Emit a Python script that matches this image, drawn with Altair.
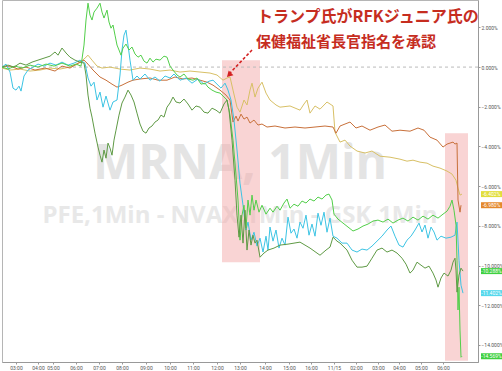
import altair as alt
import pandas as pd

# ---- axis ticks ----
bar_ticks = [14, 36, 51, 74, 97, 120, 144, 168, 191, 215, 238, 263, 287, 309, 332, 354, 376, 397, 419, 441]
tick_labels = ["03:00", "04:00", "05:00", "06:00", "07:00", "08:00", "09:00", "10:00", "11:00", "12:00",
               "13:00", "14:00", "15:00", "16:00", "11/15", "02:00", "03:00", "04:00", "05:00", "06:00"]
pct_ticks = [2, 0, -2, -4, -6, -8, -10, -12, -14]

# ---- series (bar index on compressed time axis, % change) ----
yellow_bar = [0, 8, 18, 28, 38, 48, 58, 68, 76, 83, 86, 90, 95, 100, 108, 118, 128, 138, 148, 158, 168, 178, 188, 198, 208, 215, 221, 225, 228, 231, 235, 238, 242, 245, 248, 250, 253, 256, 260, 264, 268, 274, 278, 288, 298, 302, 305, 308, 313, 318, 325, 331, 333, 338, 343, 348, 355, 363, 370, 378, 388, 398, 405, 411, 418, 425, 431, 438, 445, 450, 454, 456, 458, 460]
yellow_pct = [-0.05, -0.15, -0.10, -0.20, -0.15, -0.05, -0.10, 0.0, 0.15, 0.45, 0.60, 0.35, 0.05, -0.05, 0.0, -0.10, -0.15, -0.05, -0.10, -0.20, -0.15, -0.25, -0.20, -0.25, -0.30, -0.40, -0.66, -0.55, -0.50, -1.16, -2.02, -2.27, -1.66, -1.91, -1.16, -0.81, -1.51, -1.06, -0.76, -1.31, -1.66, -1.91, -2.02, -1.96, -2.17, -1.86, -1.66, -2.32, -1.96, -2.12, -1.76, -1.96, -3.28, -3.78, -3.68, -3.98, -4.23, -4.33, -4.23, -4.49, -4.54, -4.64, -4.74, -4.69, -4.79, -4.84, -4.99, -5.09, -5.24, -5.39, -5.70, -6.10, -6.45, -6.40]

orange_bar = [0, 8, 16, 24, 33, 43, 53, 60, 68, 76, 82, 86, 91, 98, 104, 110, 115, 120, 126, 131, 138, 148, 156, 165, 173, 181, 190, 198, 205, 211, 218, 224, 228, 231, 234, 236, 239, 242, 245, 248, 252, 256, 260, 265, 273, 283, 293, 303, 313, 323, 331, 334, 338, 343, 348, 354, 360, 368, 376, 383, 390, 398, 408, 416, 422, 428, 435, 441, 445, 448, 451, 453, 455, 456, 458, 459]
orange_pct = [0.0, 0.05, -0.10, 0.0, -0.15, -0.05, -0.20, 0.05, -0.05, 0.20, 0.35, 0.15, -0.15, -0.50, -0.66, -0.86, -1.01, -0.91, -0.76, -0.66, -0.60, -0.55, -0.66, -0.66, -0.50, -0.60, -0.55, -0.66, -0.76, -0.91, -1.16, -1.41, -1.66, -2.77, -2.47, -2.72, -2.37, -2.62, -2.52, -2.82, -2.67, -2.92, -2.87, -3.02, -2.97, -3.07, -3.02, -3.07, -3.02, -2.97, -3.02, -3.33, -2.97, -2.87, -2.77, -3.07, -2.97, -3.18, -3.02, -2.92, -3.23, -3.18, -3.23, -3.07, -3.18, -3.53, -3.68, -4.03, -3.88, -3.83, -3.78, -3.88, -3.83, -6.70, -7.31, -6.96]

cyan_bar = [0, 4, 8, 11, 14, 17, 19, 22, 26, 31, 36, 42, 48, 54, 60, 66, 72, 78, 83, 86, 89, 92, 95, 98, 101, 104, 108, 111, 115, 118, 120, 122, 124, 126, 128, 131, 135, 138, 143, 148, 153, 158, 163, 168, 172, 178, 184, 190, 196, 202, 207, 211, 215, 219, 223, 226, 229, 232, 235, 238, 241, 244, 246, 249, 252, 255, 258, 261, 264, 266, 268, 271, 274, 277, 280, 283, 286, 289, 292, 295, 298, 301, 304, 307, 310, 313, 316, 319, 322, 325, 328, 331, 335, 340, 345, 350, 355, 360, 365, 370, 375, 380, 385, 389, 393, 397, 401, 405, 409, 413, 417, 420, 423, 426, 429, 432, 435, 439, 444, 449, 453, 455, 457, 459, 461]
cyan_pct = [0.0, 0.15, -0.25, -1.06, -1.16, -0.96, -1.21, -0.45, -0.15, 0.0, 0.15, 0.05, 0.20, 0.10, 0.25, 0.10, 0.20, 0.35, 0.20, -0.55, -0.96, -0.76, -1.66, -1.26, -2.02, -1.46, -2.17, -1.76, -1.66, -0.40, 0.86, 1.61, 1.86, 1.11, 0.35, -0.66, -0.45, -0.60, -0.35, -0.66, -0.50, -0.71, -0.45, -0.55, -0.35, -0.66, -0.55, -0.81, -0.60, -0.86, -0.71, -0.66, -0.86, -1.06, -0.81, -1.16, -1.66, -2.67, -4.18, -5.85, -6.96, -8.21, -7.81, -8.72, -8.32, -9.02, -8.62, -9.32, -8.52, -9.22, -8.06, -8.77, -8.21, -9.12, -8.62, -8.97, -7.56, -8.37, -8.16, -8.62, -7.81, -8.12, -7.46, -8.47, -7.91, -8.52, -7.36, -7.97, -7.31, -8.32, -7.61, -8.52, -8.62, -8.87, -8.87, -9.22, -9.32, -9.17, -9.22, -9.02, -8.77, -8.52, -8.21, -8.01, -8.52, -8.97, -9.07, -8.72, -8.52, -8.21, -7.86, -8.31, -7.96, -8.62, -8.06, -8.31, -8.72, -8.52, -8.62, -8.57, -8.47, -7.81, -9.73, -10.99, -11.39]

lime_bar = [0, 6, 13, 20, 28, 36, 44, 52, 60, 68, 74, 79, 82, 84, 86, 88, 90, 92, 95, 98, 100, 102, 105, 107, 109, 111, 113, 115, 117, 119, 121, 124, 127, 130, 133, 136, 139, 142, 145, 148, 151, 154, 158, 162, 165, 168, 171, 175, 178, 182, 186, 191, 195, 199, 203, 206, 210, 214, 218, 222, 225, 228, 231, 234, 236, 238, 240, 242, 244, 246, 248, 250, 252, 254, 257, 260, 264, 268, 271, 275, 278, 282, 285, 288, 292, 296, 300, 304, 308, 312, 316, 320, 324, 327, 330, 332, 336, 341, 346, 351, 356, 361, 366, 371, 376, 381, 386, 391, 396, 401, 406, 411, 416, 421, 426, 431, 436, 441, 445, 448, 450, 452, 454, 455, 456, 457, 458, 459, 460]
lime_pct = [0.0, -0.10, 0.05, -0.05, 0.10, 0.0, 0.15, 0.05, 0.20, 0.05, 0.15, 0.05, 1.11, 2.37, 3.22, 2.62, 2.37, 2.77, 2.97, 3.22, 2.77, 2.47, 2.87, 2.27, 1.96, 2.12, 1.61, 1.11, 0.86, 0.60, 0.96, 1.16, 0.86, 1.01, 0.66, 0.50, 0.60, 0.30, 0.20, 0.45, 0.25, 0.40, 0.35, 0.55, 0.50, 0.05, -0.15, -0.40, -0.50, -0.35, -0.60, -0.66, -0.55, -0.86, -0.81, -1.01, -1.16, -1.26, -1.31, -1.51, -1.66, -2.42, -3.68, -5.44, -6.70, -8.72, -7.46, -6.96, -8.11, -6.70, -7.46, -6.45, -7.21, -6.70, -7.31, -6.96, -7.41, -7.11, -7.31, -7.01, -7.21, -6.85, -6.65, -7.11, -6.91, -7.01, -6.75, -6.85, -6.65, -6.75, -6.55, -6.65, -6.45, -6.40, -6.70, -7.41, -7.66, -7.86, -8.06, -8.26, -8.16, -8.01, -7.91, -7.76, -7.71, -7.81, -7.66, -7.86, -7.71, -7.61, -7.76, -7.56, -7.71, -7.51, -7.66, -7.46, -7.61, -7.41, -7.26, -7.01, -6.70, -7.21, -7.96, -9.73, -12.24, -11.09, -13.25, -14.62, -14.57]

green_bar = [0, 6, 12, 18, 24, 30, 36, 42, 48, 53, 56, 60, 64, 68, 73, 78, 82, 84, 86, 88, 90, 93, 96, 98, 100, 102, 104, 106, 108, 110, 112, 114, 117, 120, 123, 126, 129, 132, 135, 138, 141, 144, 147, 150, 153, 156, 159, 162, 165, 168, 171, 174, 178, 182, 186, 190, 194, 198, 202, 206, 210, 214, 218, 222, 225, 227, 230, 233, 235, 237, 239, 241, 243, 245, 247, 249, 251, 253, 255, 258, 262, 266, 272, 278, 286, 298, 308, 318, 324, 328, 331, 335, 338, 342, 345, 350, 355, 360, 365, 370, 375, 380, 385, 390, 395, 400, 404, 408, 411, 415, 419, 423, 427, 431, 434, 436, 439, 442, 446, 449, 451, 453, 454, 455, 457, 459, 461]
green_pct = [0.0, 0.10, 0.0, 0.20, 0.10, 0.25, 0.35, 0.45, 0.55, 0.76, 0.60, 0.96, 0.71, 0.50, 0.35, 0.25, 0.20, -0.40, -1.41, -2.07, -2.52, -3.33, -4.03, -4.44, -4.79, -4.18, -4.59, -3.83, -4.08, -4.44, -3.68, -3.18, -2.42, -1.81, -1.51, -1.16, -1.41, -1.76, -2.32, -2.87, -3.23, -3.33, -3.07, -2.97, -2.77, -2.67, -2.42, -2.52, -2.02, -1.81, -1.51, -1.76, -1.81, -1.61, -1.86, -2.17, -1.96, -2.02, -2.27, -2.32, -2.07, -2.17, -2.32, -1.86, -1.66, -2.17, -3.68, -5.70, -7.46, -8.57, -7.46, -8.87, -7.21, -9.22, -8.21, -8.97, -8.47, -8.87, -8.72, -9.58, -9.37, -9.22, -9.12, -8.97, -8.92, -8.82, -9.12, -9.48, -9.22, -9.07, -8.57, -8.77, -8.87, -9.07, -9.22, -9.73, -10.08, -10.08, -10.03, -9.63, -9.22, -9.12, -9.32, -9.22, -9.37, -9.63, -9.93, -10.38, -10.23, -9.83, -9.98, -10.13, -10.03, -10.38, -10.73, -11.09, -10.63, -10.38, -10.53, -10.23, -9.83, -9.63, -10.23, -11.34, -10.48, -10.13, -10.28]

series_names = ["yellow", "orange", "cyan", "lime", "green"]
series_colors = ["#d8c066", "#c8703a", "#3cc4e4", "#52cf4a", "#5f9a45"]

# ---- last-value tags on the right ----
tag_pct = [-6.40, -6.96, -10.28, -11.39, -14.57]
tag_text = ["-6.402%", "-6.980%", "-10.288%", "-11.402%", "-14.569%"]
tag_colors = ["#e2de3c", "#e4882c", "#3fd03f", "#55d8ec", "#3fd03f"]

# ---- highlighted zones ----
zone_bar_start = [220, 443]
zone_bar_end = [258, 466]
zone_pct_top = [0.35, -3.33]
zone_pct_bottom = [-9.83, -14.80]

# ---- build tables ----
rows = []
for name, bars, pcts in zip(series_names,
                            [yellow_bar, orange_bar, cyan_bar, lime_bar, green_bar],
                            [yellow_pct, orange_pct, cyan_pct, lime_pct, green_pct]):
    for b, p in zip(bars, pcts):
        rows.append({"series": name, "bar": b, "pct": p})
lines_df = pd.DataFrame(rows)

zones_df = pd.DataFrame({"bar": zone_bar_start, "bar2": zone_bar_end,
                         "pct": zone_pct_top, "pct2": zone_pct_bottom})
tags_df = pd.DataFrame({"pct": tag_pct, "label": tag_text, "col": tag_colors})

xs = alt.Scale(domain=[0, 476], nice=False, zero=False)
ys = alt.Scale(domain=[-14.86, 3.38], nice=False, zero=False)

labels_js = "[" + ",".join("'%s'" % t for t in tick_labels) + "]"
ticks_js = "[" + ",".join(str(t) for t in bar_ticks) + "]"
x_axis = alt.Axis(values=bar_ticks, labelExpr=labels_js + "[indexof(" + ticks_js + ", datum.value)]",
                  labelFontSize=5, labelColor="#555555", labelFont="Roboto", tickSize=2,
                  tickColor="#999999", domainColor="#999999", grid=False, title=None,
                  labelPadding=1, labelOverlap=False)
y_axis = alt.Axis(orient="right", values=pct_ticks, labelExpr="format(datum.value, '.3f') + '%'",
                  labelFontSize=5, labelColor="#555555", labelFont="Roboto", tickSize=2,
                  tickColor="#999999", domainColor="#999999", grid=False, title=None,
                  labelPadding=1, labelOverlap=False)

X = alt.X("bar:Q", scale=xs, axis=x_axis)
Y = alt.Y("pct:Q", scale=ys, axis=y_axis)

wm1 = alt.Chart(pd.DataFrame({"bar": [238], "pct": [-4.94], "t": ["MRNA, 1Min"]})).mark_text(
    font="Open Sans", fontWeight="bold", fontSize=48, color="#e4e4e4", align="center", baseline="middle"
).encode(x=X, y=Y, text="t:N")

wm2 = alt.Chart(pd.DataFrame({"bar": [238], "pct": [-7.51], "t": ["PFE,1Min - NVAX,1Min - GSK,1Min"]})).mark_text(
    font="Open Sans", fontWeight="bold", fontSize=24, color="#e8e8e8", align="center", baseline="middle"
).encode(x=X, y=Y, text="t:N")

zones = alt.Chart(zones_df).mark_rect(color="#f3a9a9", opacity=0.5).encode(
    x=X, x2="bar2:Q", y=Y, y2="pct2:Q")

zero_rule = alt.Chart(pd.DataFrame({"pct": [0]})).mark_rule(
    color="#bbbbbb", strokeDash=[3, 3], strokeWidth=1).encode(y=Y)

lines = alt.Chart(lines_df).mark_line(strokeWidth=1).encode(
    x=X, y=Y,
    color=alt.Color("series:N", scale=alt.Scale(domain=series_names, range=series_colors), legend=None),
    detail="series:N")

arrow = alt.Chart(pd.DataFrame({"bar": [250], "pct": [0.86], "bar2": [227], "pct2": [-0.35]})).mark_rule(
    color="#d42222", strokeDash=[3, 2], strokeWidth=1.6).encode(x=X, y=Y, x2="bar2:Q", y2="pct2:Q")

arrow_head = alt.Chart(pd.DataFrame({"bar": [227], "pct": [-0.40]})).mark_point(
    shape="triangle-up", angle=225, filled=True, size=45, color="#d42222", opacity=1).encode(x=X, y=Y)

note1 = alt.Chart(pd.DataFrame({"bar": [255], "pct": [2.52], "t": ["トランプ氏がRFKジュニア氏の"]})).mark_text(
    font="Noto Sans CJK JP", fontWeight="bold", fontSize=16, color="#c62d1f", align="left", baseline="middle"
).encode(x=X, y=Y, text="t:N")

note2 = alt.Chart(pd.DataFrame({"bar": [254], "pct": [1.26], "t": ["保健福祉省長官指名を承認"]})).mark_text(
    font="Noto Sans CJK JP", fontWeight="bold", fontSize=15, color="#c62d1f", align="left", baseline="middle"
).encode(x=X, y=Y, text="t:N")

tag_box = alt.Chart(tags_df).mark_rect(yOffset=-3, y2Offset=3).encode(
    x=alt.value(479), x2=alt.value(500), y=Y, y2="pct:Q",
    color=alt.Color("col:N", scale=None, legend=None))

tag_txt = alt.Chart(tags_df).mark_text(fontSize=5, color="white", font="Roboto", align="center",
                                       baseline="middle").encode(
    x=alt.value(489.5), y=Y, text="label:N")

chart = alt.layer(wm1, wm2, zones, zero_rule, lines, arrow, arrow_head, note1, note2, tag_box, tag_txt).properties(
    width=476, height=362,
    autosize=alt.AutoSizeParams(type="none"),
    padding={"left": 2, "top": 0, "right": 24, "bottom": 9},
    background="white"
).configure_view(stroke="#b5b5b5", strokeWidth=1)

chart.save("out.html", embed_options={"renderer": "svg", "actions": False})
